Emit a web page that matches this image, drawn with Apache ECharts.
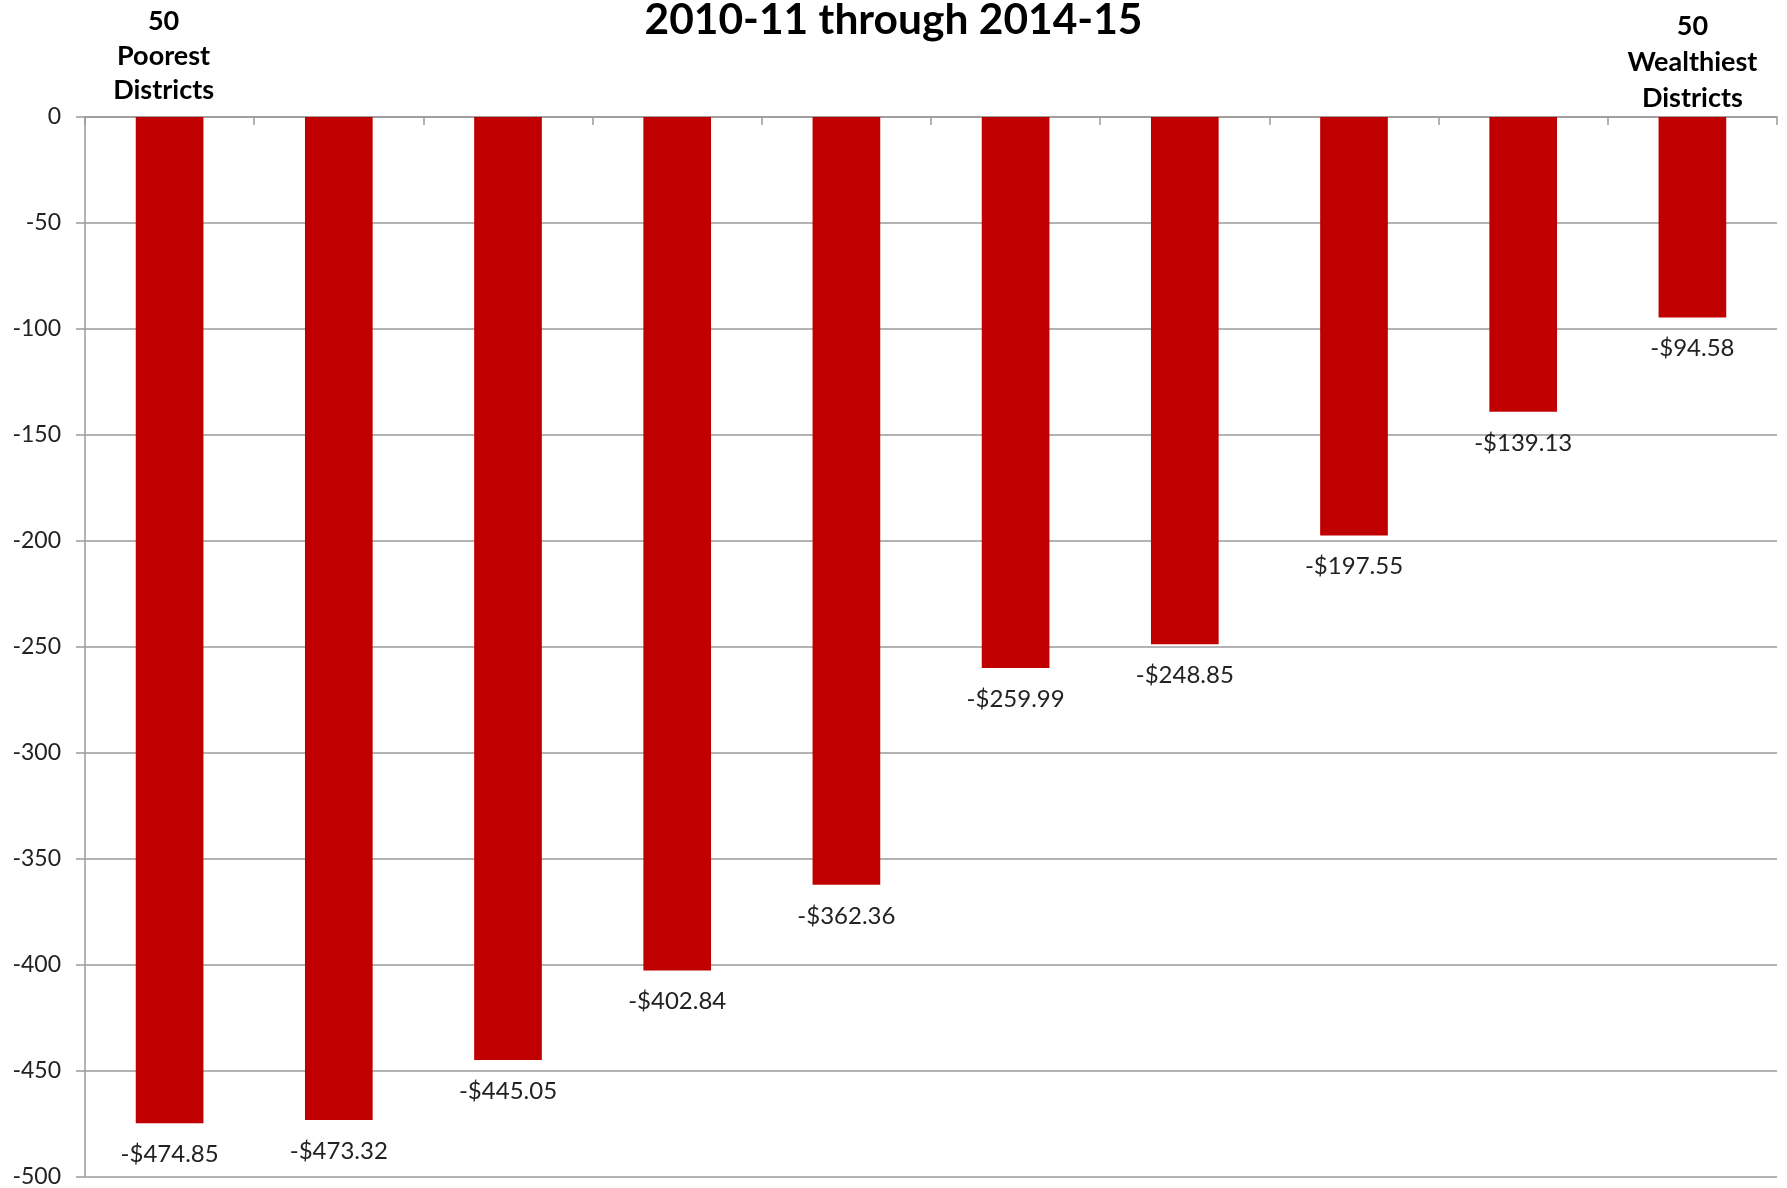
<!DOCTYPE html>
<html>
<head>
<meta charset="utf-8">
<script src="https://cdn.jsdelivr.net/npm/echarts@6/dist/echarts.min.js"></script>
<style>
html,body{margin:0;padding:0;background:#fff;}
#chart{width:1787px;height:1188px;}
</style>
</head>
<body>
<div id="chart"></div>
<script>
const titleText = '2010-11 through 2014-15';
const categories = ['50 Poorest Districts','2','3','4','5','6','7','8','9','50 Wealthiest Districts'];
const categoryLabels = ['{a|50}\n{a|Poorest}\n{a|Districts}\n{g| }', '', '', '', '', '', '', '', '', '{b|50}\n{b|Wealthiest}\n{b|Districts}'];
const values = [-474.85, -473.32, -445.05, -402.84, -362.36, -259.99, -248.85, -197.55, -139.13, -94.58];
const yTicks = { min: -500, max: 0, interval: 50 };

const chart = echarts.init(document.getElementById('chart'));
const FONT = 'Lato, "Open Sans", sans-serif';
chart.setOption({
  animation: false,
  backgroundColor: '#ffffff',
  title: {
    text: titleText,
    left: 'center',
    top: -6,
    textStyle: { fontFamily: FONT, fontWeight: 'bold', fontSize: 42.5, color: '#000' }
  },
  grid: { left: 85, right: 10, top: 117, bottom: 10, containLabel: false },
  xAxis: {
    type: 'category',
    position: 'top',
    data: categories,
    axisLine: { show: true, onZero: false, lineStyle: { color: '#9a9a9a', width: 1.5 } },
    axisTick: { show: true, inside: true, length: 8, lineStyle: { color: '#9a9a9a', width: 1.5 } },
    axisLabel: {
      interval: 0,
      margin: 1,
      formatter: function (v, i) { return categoryLabels[i]; },
      rich: {
        a: { fontFamily: FONT, fontWeight: 'bold', fontSize: 27, lineHeight: 34.5, color: '#000', padding: [0, 12, 0, 0] },
        b: { fontFamily: FONT, fontWeight: 'bold', fontSize: 27, lineHeight: 36, color: '#000' },
        g: { fontSize: 1, lineHeight: 8 }
      }
    },
    splitLine: { show: false }
  },
  yAxis: {
    type: 'value',
    min: yTicks.min,
    max: yTicks.max,
    interval: yTicks.interval,
    axisLine: { show: true, lineStyle: { color: '#9a9a9a', width: 1.5 } },
    axisTick: { show: true, inside: false, length: 9, lineStyle: { color: '#9a9a9a', width: 1.5 } },
    axisLabel: { margin: 24, fontFamily: FONT, fontSize: 23, color: '#222' },
    splitLine: { show: true, lineStyle: { color: '#9a9a9a', width: 1.5 } }
  },
  series: [{
    type: 'bar',
    data: values,
    barWidth: '40%',
    itemStyle: { color: '#c00000' },
    label: {
      show: true,
      position: 'bottom',
      distance: 19,
      fontFamily: FONT,
      fontSize: 24,
      color: '#222',
      formatter: function (p) { return '-$' + Math.abs(p.value).toFixed(2); }
    }
  }]
});
</script>
</body>
</html>
